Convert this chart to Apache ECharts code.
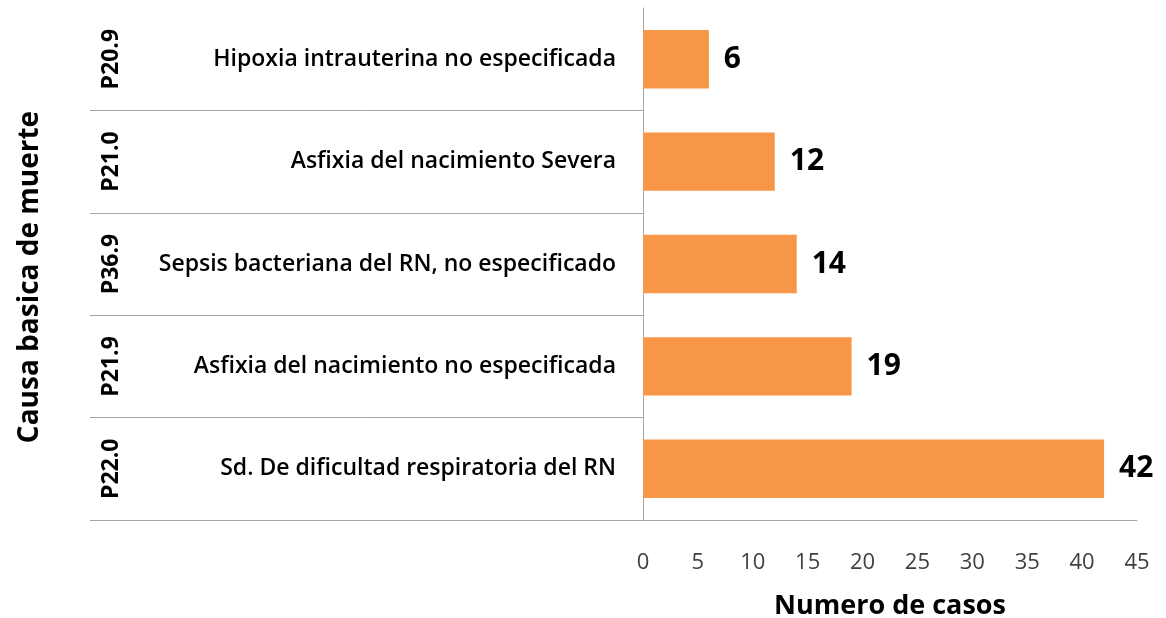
<!DOCTYPE html>
<html><head><meta charset="utf-8">
<script src="https://cdn.jsdelivr.net/npm/echarts@6/dist/echarts.min.js"></script>
<style>html,body{margin:0;padding:0;background:#fff}#c{width:1166px;height:618px}</style>
</head><body><div id="c"></div>
<script>
const codes = ["P20.9", "P21.0", "P36.9", "P21.9", "P22.0"];
const causes = [
  "Hipoxia intrauterina no especificada",
  "Asfixia del nacimiento Severa",
  "Sepsis bacteriana del RN, no especificado",
  "Asfixia del nacimiento no especificada",
  "Sd. De dificultad respiratoria del RN"
];
const values = [6, 12, 14, 19, 42];
const xTitle = "Numero de casos";
const yTitle = "Causa basica de muerte";

const FONT = "'Open Sans', 'Noto Sans', sans-serif";
const chart = echarts.init(document.getElementById('c'), null, {renderer: 'canvas'});
chart.setOption({
  animation: false,
  grid: {left: 643, right: 29, top: 8, bottom: 98, containLabel: false, outerBoundsMode: 'none'},
  xAxis: {
    type: 'value', min: 0, max: 45, interval: 5,
    axisLine: {show: true, lineStyle: {color: '#a6a6a6', width: 1}},
    axisTick: {show: false},
    splitLine: {show: false},
    axisLabel: {color: '#404040', fontSize: 22, fontFamily: FONT, margin: 32},
    name: xTitle, nameLocation: 'middle', nameGap: 73,
    nameTextStyle: {color: '#000', fontSize: 27, fontWeight: 'bold', fontFamily: FONT}
  },
  yAxis: [{
    type: 'category', data: causes, inverse: true,
    axisLine: {show: true, lineStyle: {color: '#a6a6a6', width: 1}},
    axisTick: {show: true, length: 553, interval: function (i) { return i > 0; }, lineStyle: {color: '#a6a6a6', width: 1}},
    axisLabel: {color: '#000', fontSize: 23, fontWeight: 600, fontFamily: FONT, margin: 27, interval: 0}
  }, {
    type: 'category', data: codes, inverse: true, position: 'left', offset: 532,
    axisLine: {show: false}, axisTick: {show: false},
    axisLabel: {color: '#000', fontSize: 23, fontWeight: 'bold', fontFamily: FONT, rotate: 90, margin: 0, interval: 0, align: 'center', verticalAlign: 'middle'}
  }],
  series: [{
    type: 'bar', data: values, yAxisIndex: 0,
    barCategoryGap: '43%',
    itemStyle: {color: '#F79646'},
    label: {show: true, position: 'right', distance: 15, color: '#000', fontSize: 30, fontWeight: 'bold', fontFamily: FONT}
  }],
  graphic: [{
    type: 'text', x: 30, y: 277, rotation: Math.PI / 2,
    style: {text: yTitle, fill: '#000', fontSize: 28, fontWeight: 'bold', fontFamily: FONT, align: 'center', verticalAlign: 'middle'}
  }]
});
</script></body></html>
